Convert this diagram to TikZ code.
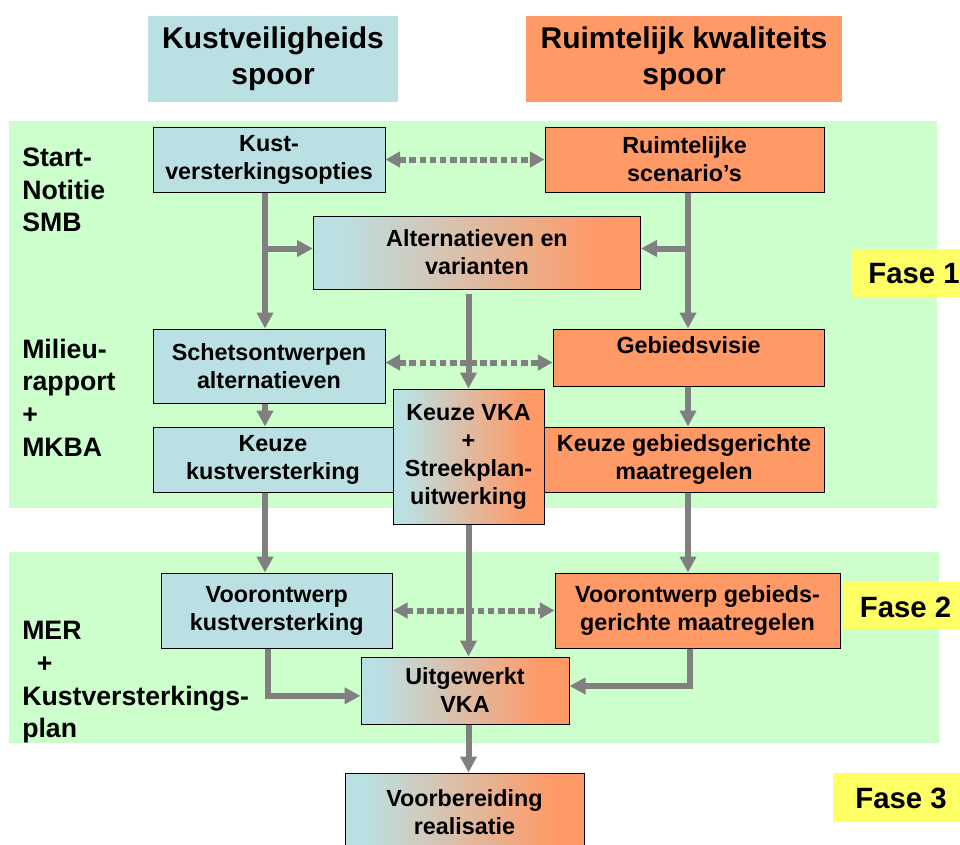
\documentclass[tikz,border=0pt]{standalone}
\usepackage{fontspec}
\setmainfont{Liberation Sans}
\usetikzlibrary{arrows.meta}
\definecolor{kblue}{HTML}{BBE0E3}
\definecolor{korange}{HTML}{FF9966}
\definecolor{kgreen}{HTML}{CCFFCC}
\definecolor{kyellow}{HTML}{FFFF66}
\definecolor{kgray}{HTML}{808080}
\pgfdeclarehorizontalshading{gradbo}{100bp}{color(0bp)=(kblue); color(29bp)=(kblue); color(69bp)=(korange); color(100bp)=(korange)}
\begin{document}
\begin{tikzpicture}[x=0.75pt,y=-0.75pt,
  box/.style={draw=black, line width=0.75pt, align=center, inner sep=0pt,
    font=\fontsize{17.5}{21}\selectfont\bfseries},
  bluebox/.style={box, fill=kblue},
  orbox/.style={box, fill=korange},
  gradbox/.style={box, shade, shading=gradbo},
  boxtext/.style={align=center, inner sep=0pt, font=\fontsize{17.5}{21}\selectfont\bfseries},
  header/.style={align=center, inner sep=0pt, minimum height=64.5pt,
    font=\fontsize{22.5}{27}\selectfont\bfseries},
  lab/.style={align=left, inner sep=0pt, anchor=west,
    font=\fontsize{20}{24.5}\selectfont\bfseries},
  fase/.style={inner sep=0pt, font=\fontsize{22}{26}\selectfont\bfseries},
  arr/.style={draw=kgray, line width=4.5pt, -{Triangle[length=12pt,width=12pt]}},
  darr/.style={draw=kgray, line width=4.5pt, dash pattern=on 5pt off 2.6pt,
    {Triangle[length=11pt,width=11.5pt]}-{Triangle[length=11pt,width=11.5pt]}}
]
\clip (0,0) rectangle (960,844);
\fill[white] (0,0) rectangle (960,844);

% background bands
\fill[kgreen] (9,121) rectangle (937,508);
\fill[kgreen] (9,552) rectangle (939,743);

% phase labels
\fill[kyellow] (852,249) rectangle (965,297);
\fill[kyellow] (844,582) rectangle (965,629);
\fill[kyellow] (833,773) rectangle (965,822);
\node[fase] (f1) at (914,274) {Fase 1};
\node[fase] (f2) at (905.5,607) {Fase 2};
\node[fase] (f3) at (901,798) {Fase 3};

% headers
\node[header, fill=kblue, minimum width=187.5pt] (hl) at (273,59) {Kustveiligheids\\spoor};
\node[header, fill=korange, minimum width=237pt] (hr) at (684,59) {Ruimtelijk kwaliteits\\spoor};

% left labels
\node[lab] (l1) at (22,190) {Start-\\Notitie\\SMB};
\node[lab] (l2) at (22,397.5) {Milieu-\\rapport\\+\\MKBA};
\node[lab] (l3) at (22,682.5) {MER\\\hspace*{11pt}+\\Kustversterkings-\\plan};

% column coordinates
\coordinate (colL) at (265,0);
\coordinate (colR) at (688,0);
\coordinate (colL2) at (268,0);
\coordinate (colR2) at (690,0);

% boxes
\node[bluebox, minimum width=174pt, minimum height=48.75pt] (kv) at (269,159.5) {Kust-\\versterkingsopties};
\node[orbox, minimum width=209.25pt, minimum height=48.75pt] (rs) at (684.5,159.5) {Ruimtelijke\\scenario’s};
\node[gradbox, minimum width=245.25pt, minimum height=54.75pt] (alt) at (477,252.5) {Alternatieven en\\varianten};
\node[bluebox, minimum width=174pt, minimum height=55.5pt] (sch) at (269,366) {Schetsontwerpen\\alternatieven};
\node[orbox, minimum width=203.25pt, minimum height=42.75pt] (gv) at (688.5,357.5) {};
\node[boxtext] (gvt) at (688.5,345) {Gebiedsvisie};
\node[bluebox, minimum width=180pt, minimum height=48.75pt] (kk) at (273,459.5) {Keuze\\kustversterking};
\node[orbox, minimum width=210pt, minimum height=48.75pt] (kg) at (684,459.5) {Keuze gebiedsgerichte\\maatregelen};
\node[gradbox, minimum width=113.25pt, minimum height=101.25pt] (vka) at (468.5,456.5) {Keuze VKA\\+\\Streekplan-\\uitwerking};
\node[bluebox, minimum width=173.6pt, minimum height=56.25pt] (vk) at (276.75,610.5) {Voorontwerp\\kustversterking};
\node[orbox, minimum width=213.75pt, minimum height=56.25pt] (vg) at (697.5,610.5) {Voorontwerp gebieds-\\gerichte maatregelen};
\node[gradbox, minimum width=156pt, minimum height=50.25pt] (uv) at (465,690.5) {Uitgewerkt\\VKA};
\node[gradbox, minimum width=179.25pt, minimum height=59.25pt] (vr) at (464.5,812.5) {Voorbereiding\\realisatie};

% dashed double arrows
\draw[darr] (kv.east) -- (rs.west);
\draw[darr] (sch.east |- gv.north) ++(0,34) coordinate (dl) (sch.east |- dl) -- (gv.west |- dl);
\draw[darr] (vk.east) -- (vg.west);

% left column
\draw[arr] (kv.south -| colL) -- (sch.north -| colL);
\draw[arr] (colL |- alt.west) ++(0,-4) coordinate (bl) -- (alt.west |- bl);
\draw[arr] (sch.south -| colL) -- (kk.north -| colL);
\draw[arr] (kk.south -| colL) -- (vk.north -| colL);

% right column
\draw[arr] (rs.south -| colR) -- (gv.north -| colR);
\draw[arr] (colR |- alt.east) ++(0,-4) coordinate (br) -- (alt.east |- br);
\draw[arr] (gv.south -| colR) -- (kg.north -| colR);
\draw[arr] (kg.south -| colR) -- (vg.north -| colR);

% middle
\draw[arr] ([yshift=-3pt]alt.south -| vka.north) -- (vka.north);
\draw[arr] (vka.south) -- (vka.south |- uv.north);
\draw[arr] (uv.south -| vka.south) -- (vr.north -| vka.south);

% elbows to Uitgewerkt VKA
\draw[arr] (vk.south -| colL2) |- ([yshift=-4pt]uv.west);
\draw[arr] (vg.south -| colR2) |- ([yshift=3.4pt]uv.east);
\end{tikzpicture}
\end{document}
